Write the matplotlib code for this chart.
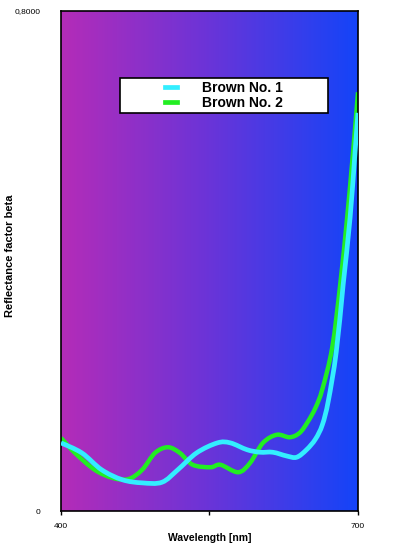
import numpy as np
import matplotlib
matplotlib.use("Agg")
from matplotlib import pyplot as plt
from matplotlib.patches import Rectangle, PathPatch
from matplotlib.path import Path
from matplotlib.lines import Line2D
from matplotlib.colors import LinearSegmentedColormap

plt.rcParams['font.family'] = ['Liberation Sans', 'DejaVu Sans']

# Brown No. 1 (cyan)
wl1 = [400, 421, 441, 462, 482, 502, 518, 537, 558, 571, 588, 601, 614, 628,
       638, 648, 657, 664, 670, 678, 685, 692, 697, 700]
beta1 = [0.109, 0.093, 0.066, 0.050, 0.045, 0.046, 0.066, 0.093, 0.109, 0.109,
         0.098, 0.094, 0.094, 0.088, 0.086, 0.098, 0.115, 0.138, 0.176, 0.254,
         0.362, 0.469, 0.574, 0.637]
# Brown No. 2 (green)
wl2 = [400, 414, 434, 452, 468, 482, 495, 508, 520, 533, 551, 561, 579, 591,
       604, 618, 631, 641, 649, 657, 664, 674, 682, 689, 695, 700]
beta2 = [0.117, 0.093, 0.066, 0.053, 0.051, 0.066, 0.093, 0.102, 0.093, 0.074,
         0.070, 0.074, 0.062, 0.077, 0.109, 0.122, 0.118, 0.125, 0.142, 0.165,
         0.195, 0.262, 0.362, 0.469, 0.574, 0.670]
names = ["Brown No. 1", "Brown No. 2"]
colors = ['#33eeff', '#22ee22']


def smooth_line(ax, x, y, color, lw, z):
    # smoothed line like excel: bezier segments through the points
    pts = np.column_stack([x, y]).astype(float)
    n = len(pts)
    verts = [pts[0]]
    codes = [Path.MOVETO]
    for i in range(n - 1):
        p0 = pts[max(i - 1, 0)]
        p1 = pts[i]
        p2 = pts[i + 1]
        p3 = pts[min(i + 2, n - 1)]
        verts += [p1 + (p2 - p0) / 6, p2 - (p3 - p1) / 6, p2]
        codes += [Path.CURVE4] * 3
    ax.add_patch(PathPatch(Path(verts, codes), fill=False, edgecolor=color,
                           lw=lw, capstyle='butt', zorder=z))


fig = plt.figure(figsize=(4.07, 5.47), dpi=100)
ax = fig.add_axes([61/407, 36/547, 297/407, 500/547])

# background gradient magenta -> blue
cmap = LinearSegmentedColormap.from_list("bg", ["#b42cb8", "#6a34d8", "#1444f8"])
grad = np.linspace(0, 1, 256).reshape(1, -1)
ax.imshow(grad, cmap=cmap, aspect='auto', extent=[400, 700, 0, 0.8], zorder=0)

smooth_line(ax, wl2, beta2, colors[1], 3.2, 2)
smooth_line(ax, wl1, beta1, colors[0], 3.4, 3)

ax.set_xlim(400, 700)
ax.set_ylim(0, 0.8)
ax.set_xticks([400, 550, 700])
ax.set_xticklabels(["400", "", "700"])
ax.set_yticks([0, 0.8])
ax.set_yticklabels(["0", "0,8000"])
ax.tick_params(axis='x', length=3, width=1, labelsize=6, pad=6)
ax.tick_params(axis='y', length=0, labelsize=6, pad=15)
for s in ax.spines.values():
    s.set_linewidth(1.2)
    s.set_color('black')

ax.set_xlabel("Wavelength [nm]", fontsize=7.5, fontweight='bold', labelpad=2)
ax.set_ylabel("Reflectance factor beta", fontsize=8, fontweight='bold')
ax.yaxis.set_label_coords(-0.155, 0.51)

# legend box
ax.add_patch(Rectangle((0.199, 0.796), 0.70, 0.07, transform=ax.transAxes,
                       facecolor='white', edgecolor='black', lw=1.2, zorder=4))
h = [Line2D([], [], color=c, lw=3.4) for c in colors]
leg = ax.legend(h, names, loc='center', bbox_to_anchor=(0.199, 0.796, 0.70, 0.07),
                frameon=False, prop={'weight': 'bold', 'size': 10}, handlelength=0.9,
                handletextpad=1.8, labelspacing=0.05, borderpad=0)
leg.set_zorder(5)

plt.savefig("out.png", dpi=100)
